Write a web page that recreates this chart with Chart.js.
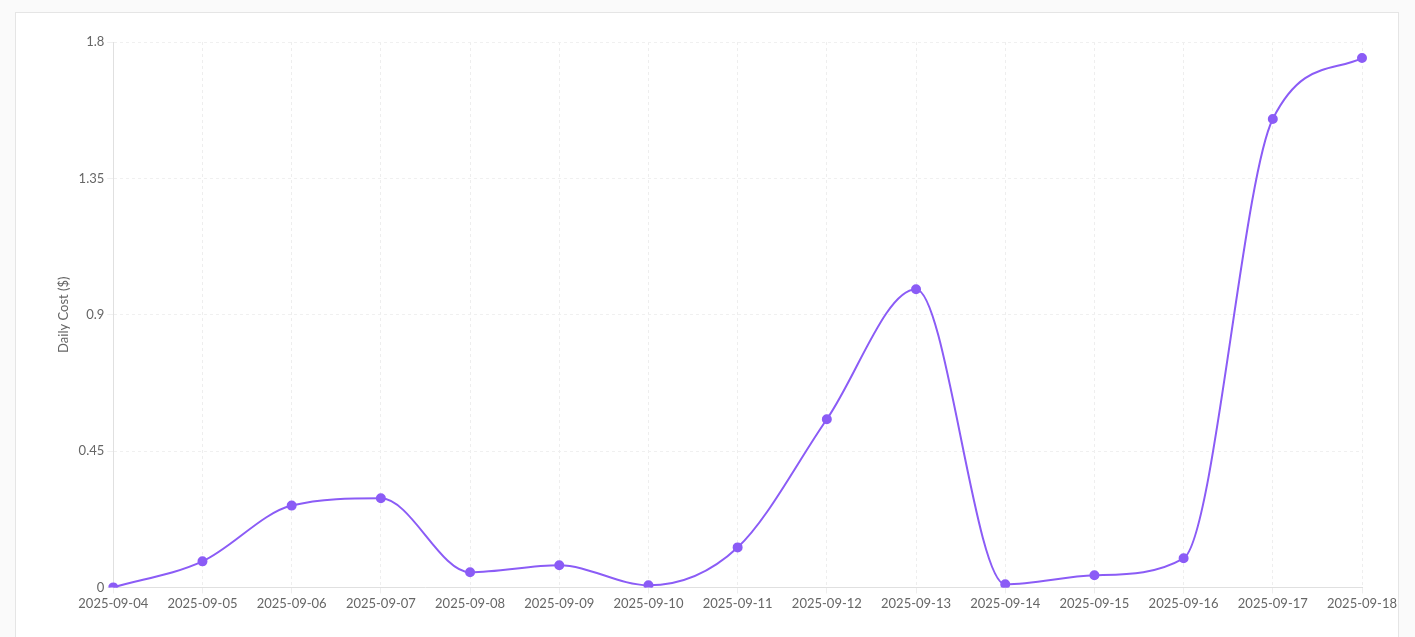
<!DOCTYPE html>
<html>
<head>
<meta charset="utf-8">
<script src="https://cdn.jsdelivr.net/npm/chart.js@4"></script>
<style>
body { margin: 0; background: #fafafa; font-family: Lato, sans-serif; }
#card { position: absolute; left: 15px; top: 12px; width: 1384px; height: 640px; background: #fff; border: 1px solid #e5e5e5; box-sizing: border-box; }
</style>
</head>
<body>
<div id="card"><canvas id="costChart"></canvas></div>
<script>
var dates = ["2025-09-04","2025-09-05","2025-09-06","2025-09-07","2025-09-08","2025-09-09","2025-09-10","2025-09-11","2025-09-12","2025-09-13","2025-09-14","2025-09-15","2025-09-16","2025-09-17","2025-09-18"]
var dailyCost = [0, 0.086, 0.27, 0.294, 0.05, 0.073, 0.007, 0.132, 0.555, 0.984, 0.01, 0.04, 0.096, 1.546, 1.747]
var yTicks = [0, 0.45, 0.9, 1.35, 1.8]

var canvas = document.getElementById("costChart")
canvas.style.width = "1384px"
canvas.style.height = "625px"

new Chart(canvas.getContext('2d'), {
    type: 'line',
    data: {
        labels: dates,
        datasets: [{
            label: "Daily Cost",
            data: dailyCost,
            borderColor: "#8b5cf6",
            backgroundColor: "#8b5cf6",
            borderWidth: 2,
            pointRadius: 4,
            pointHoverRadius: 5,
            cubicInterpolationMode: 'monotone',
            fill: false
        }]
    },
    options: {
        responsive: false,
        animation: false,
        layout: { padding: { left: 36, right: 38, top: 29, bottom: 23 } },
        plugins: { legend: { display: false }, tooltip: { enabled: false } },
        scales: {
            x: {
                offset: false,
                grid: { color: "#eeeeee", tickLength: 6 },
                border: { color: "#e0e0e0", dash: [3, 3] },
                ticks: { color: "#666", font: { family: "Lato", size: 13 }, maxRotation: 0, autoSkip: false }
            },
            y: {
                min: 0,
                max: 1.8,
                afterBuildTicks: function(axis) { axis.ticks = yTicks.map(function(v) { return { value: v } }) },
                grid: { color: "#f0f0f0", tickLength: 6 },
                border: { display: true, color: "#e0e0e0", dash: [3, 3] },
                ticks: { color: "#666", font: { family: "Lato", size: 13 }, callback: function(v) { return String(v) } },
                title: { display: true, text: "Daily Cost ($)", color: "#666", font: { family: "Lato", size: 13 } }
            }
        }
    }
})
</script>
</body>
</html>
